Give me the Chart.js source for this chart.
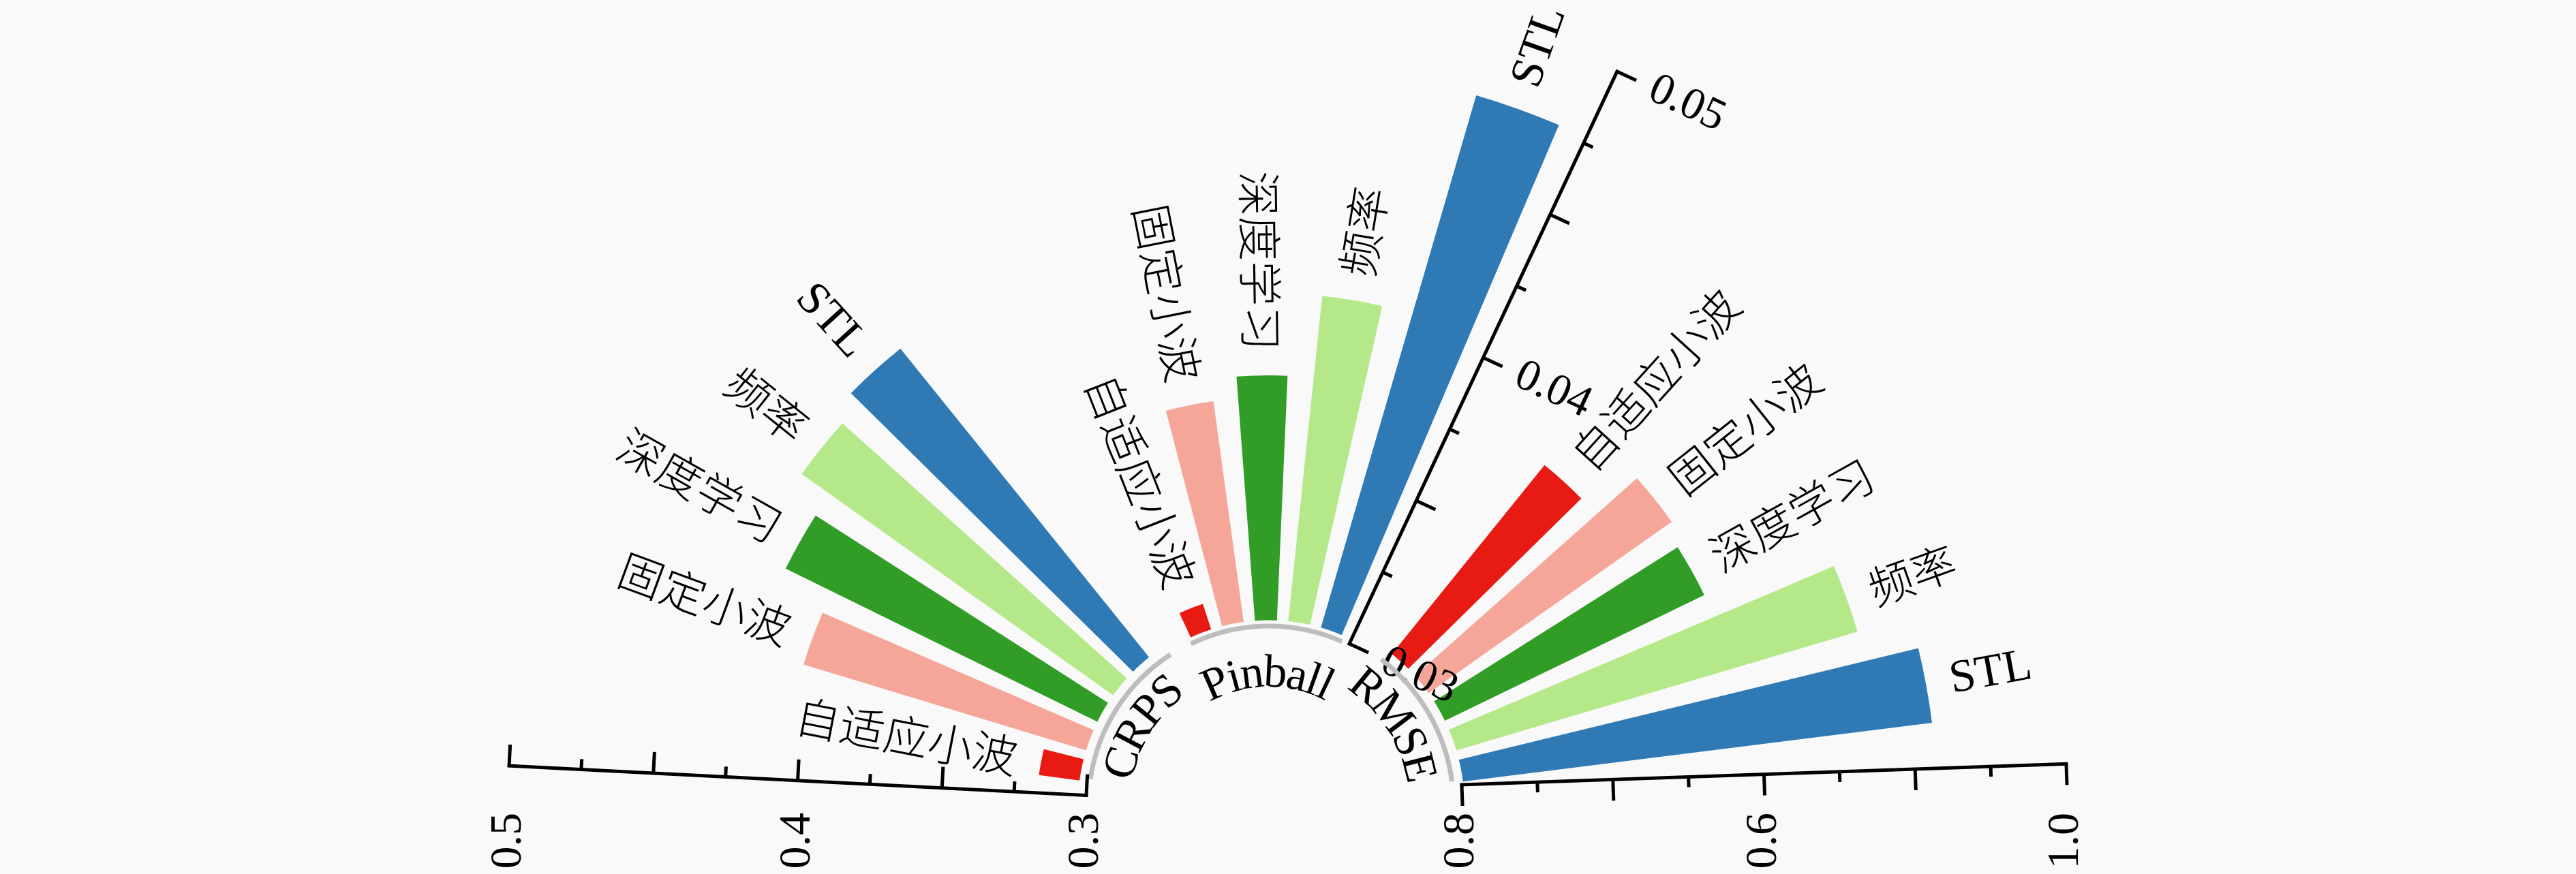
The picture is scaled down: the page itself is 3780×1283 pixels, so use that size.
<!DOCTYPE html>
<html>
<head>
<meta charset="utf-8">
<script src="https://cdn.jsdelivr.net/npm/chart.js@4.4.1/dist/chart.umd.min.js"></script>
<style>
  html, body { margin: 0; padding: 0; background: #f9f9f9; overflow: hidden; }
  #wrap { position: relative; width: 3780px; height: 1283px; }
</style>
</head>
<body>
<div id="wrap"><canvas id="chart"></canvas></div>
<script>
// ---------------- data ----------------
const groupNames = ['CRPS', 'Pinball', 'RMSE'];
const methodNames = ['自适应小波', '固定小波', '深度学习', '频率', 'STL'];
const crpsValues = [0.317, 0.405, 0.423, 0.435, 0.440];
const pinballValues = [0.0310, 0.0372, 0.0379, 0.0405, 0.0477];
const rmseValues = [0.881, 0.899, 0.896, 0.939, 0.957];
const crpsTicks = [0.3, 0.4, 0.5];
const crpsTickLabels = ['0.3', '0.4', '0.5'];
const pinballTicks = [0.03, 0.04, 0.05];
const pinballTickLabels = ['0.03', '0.04', '0.05'];
const rmseTicks = [0.8, 0.9, 1.0];
const rmseTickLabels = ['0.8', '0.6', '1.0'];
const crpsMinorStep = 0.025;
const pinballMinorStep = 0.0025;
const rmseMinorStep = 0.025;
const methodColors = ['#e81a14', '#f5a699', '#319d26', '#b4e888', '#2f79b5'];

// ---------------- layout / style ----------------
const D2R = Math.PI / 180;
const CENTER = { x: 1862, y: 1183 };
const LAYOUT = {
  CRPS:    { first: 169.1, step: -9.25, width: 6.5, rMin: 268.4, rMax: 1116.5, barGap: 12,
             axisAngle: 177.06, axisOffset: -1.7, tickLabelMode: 'below',
             arcFrom: 123, arcTo: 171.5, arcR: 265, nameAngle: 148.2, nameR: 222 },
  Pinball: { first: 111.5, step: -10.29, width: 6.8, rMin: 265.6, rMax: 1193, barGap: 7,
             axisAngle: 64.93, axisOffset: -6, tickLabelMode: 'side',
             arcFrom: 66, arcTo: 115.7, arcR: 264, nameAngle: 90.6, nameR: 193 },
  RMSE:    { first: 47.8, step: -9.35, width: 6.5, rMin: 283.9, rMax: 1171.4, barGap: 3,
             axisAngle: 1.98, axisOffset: 21.2, tickLabelMode: 'below',
             arcFrom: 7.6, arcTo: 52.5, arcR: 271, nameAngle: 32.7, nameR: 224 }
};
const VALUES = { CRPS: crpsValues, Pinball: pinballValues, RMSE: rmseValues };
const TICKS = {
  CRPS: { values: crpsTicks, labels: crpsTickLabels, minor: crpsMinorStep },
  Pinball: { values: pinballTicks, labels: pinballTickLabels, minor: pinballMinorStep },
  RMSE: { values: rmseTicks, labels: rmseTickLabels, minor: rmseMinorStep }
};
const LATIN = '"Liberation Serif", "Times New Roman", serif';
const CJK = '"Noto Sans CJK SC", sans-serif';
const TICK_FONT = '66px ' + LATIN;
const NAME_FONT = '68px ' + LATIN;
const MAJOR_LEN = 31, MINOR_LEN = 15, AXIS_W = 5;
const TICK_LABEL_DY = 10, SIDE_LABEL_PAD = 24, BAR_LABEL_PAD = 36;
const ARC_COLOR = '#bdbdbd', ARC_W = 7;

// ---------------- build chart config ----------------
function scaleFor(name) {
  const L = LAYOUT[name];
  const t = TICKS[name].values;
  const lo = t[0], hi = t[t.length - 1];
  const k = (L.rMax - L.rMin) / (hi - lo);
  return {
    type: 'radialLinear', axis: 'r', display: false, beginAtZero: false, bounds: 'data',
    min: lo - L.rMin / k, max: hi,
    startAngle: 90 - (L.first + L.width / 2),
    afterFit: (s) => { s.xCenter = CENTER.x; s.yCenter = CENTER.y; s.drawingArea = L.rMax; }
  };
}
function datasetFor(name) {
  const L = LAYOUT[name];
  const sc = scaleFor(name);
  const data = [], angles = [], colors = [];
  VALUES[name].forEach((v, i) => {
    if (i > 0) { data.push(sc.min); angles.push(Math.abs(L.step) - L.width); colors.push('rgba(0,0,0,0)'); }
    data.push(v); angles.push(L.width); colors.push(methodColors[i]);
  });
  return {
    label: name, rAxisID: name, data,
    angle: (ctx) => angles[ctx.dataIndex],
    backgroundColor: (ctx) => colors[ctx.dataIndex],
    borderWidth: 0
  };
}
const labels = [];
methodNames.forEach((m, i) => { if (i > 0) labels.push(''); labels.push(m); });

const scales = {};
groupNames.forEach(g => { scales[g] = scaleFor(g); });

// bars start just outside the inner circle
const holePlugin = {
  id: 'hole',
  afterDatasetsUpdate(chart) {
    chart.data.datasets.forEach((ds, di) => {
      const meta = chart.getDatasetMeta(di);
      const s = meta.rScale;
      const L = LAYOUT[ds.rAxisID];
      const r0 = s.getDistanceFromCenterForValue(TICKS[ds.rAxisID].values[0]) + L.barGap;
      meta.data.forEach((el, i) => { if (i % 2 === 0) el.innerRadius = r0; });
    });
  }
};

function isCJK(t) { return /[\u4e00-\u9fff]/.test(t); }

const decorPlugin = {
  id: 'decor',
  afterDraw(chart) {
    const ctx = chart.ctx;
    ctx.save();
    ctx.fillStyle = '#000';
    ctx.strokeStyle = '#000';
    groupNames.forEach((name, gi) => {
      const L = LAYOUT[name];
      const T = TICKS[name];
      const s = chart.scales[name];
      const cx = s.xCenter, cy = s.yCenter;

      // grey inner arc
      ctx.save();
      ctx.strokeStyle = ARC_COLOR; ctx.lineWidth = ARC_W;
      ctx.beginPath();
      ctx.arc(cx, cy, L.arcR, -L.arcTo * D2R, -L.arcFrom * D2R);
      ctx.stroke();
      ctx.restore();

      // curved group name
      ctx.save();
      ctx.font = NAME_FONT;
      const chars = [...name];
      const widths = chars.map(ch => ctx.measureText(ch).width);
      const total = widths.reduce((a, b) => a + b, 0);
      let th = L.nameAngle * D2R + (total / 2) / L.nameR;
      chars.forEach((ch, i) => {
        const tc = th - (widths[i] / 2) / L.nameR;
        ctx.save();
        ctx.translate(cx + L.nameR * Math.cos(tc), cy - L.nameR * Math.sin(tc));
        ctx.rotate(Math.PI / 2 - tc);
        ctx.textAlign = 'center'; ctx.textBaseline = 'middle';
        ctx.fillText(ch, 0, 0);
        ctx.restore();
        th -= widths[i] / L.nameR;
      });
      ctx.restore();

      // radial axis
      const a = L.axisAngle * D2R;
      const ux = Math.cos(a), uy = -Math.sin(a);
      const nx = -Math.sin(a), ny = -Math.cos(a);
      const tx = -nx, ty = -ny;
      const P = (v) => {
        const r = s.getDistanceFromCenterForValue(v);
        return { x: cx + r * ux + L.axisOffset * nx, y: cy + r * uy + L.axisOffset * ny };
      };
      const lo = T.values[0], hi = T.values[T.values.length - 1];
      ctx.save();
      ctx.lineWidth = AXIS_W; ctx.lineCap = 'square';
      const p0 = P(lo), p1 = P(hi);
      ctx.beginPath(); ctx.moveTo(p0.x, p0.y); ctx.lineTo(p1.x, p1.y); ctx.stroke();
      ctx.lineCap = 'butt';
      const n = Math.round((hi - lo) / T.minor);
      for (let k = 0; k <= n; k++) {
        const v = lo + k * T.minor;
        const p = P(v);
        const len = (k % 2 === 0) ? MAJOR_LEN : MINOR_LEN;
        ctx.beginPath(); ctx.moveTo(p.x, p.y); ctx.lineTo(p.x + tx * len, p.y + ty * len); ctx.stroke();
      }
      ctx.restore();

      // tick labels
      ctx.save();
      ctx.font = TICK_FONT;
      T.values.forEach((v, i) => {
        const p = P(v);
        ctx.save();
        if (L.tickLabelMode === 'below') {
          ctx.translate(p.x, cy + TICK_LABEL_DY);
          ctx.rotate(-Math.PI / 2);
          ctx.textAlign = 'right'; ctx.textBaseline = 'middle';
        } else {
          const d = MAJOR_LEN + SIDE_LABEL_PAD;
          ctx.translate(p.x + tx * d, p.y + ty * d);
          ctx.rotate(Math.atan2(ty, tx));
          ctx.textAlign = 'left'; ctx.textBaseline = 'middle';
        }
        ctx.fillText(T.labels[i], 0, 0);
        ctx.restore();
      });
      ctx.restore();

      // bar labels
      const meta = chart.getDatasetMeta(gi);
      meta.data.forEach((el, i) => {
        if (i % 2 !== 0) return;
        const text = methodNames[i / 2];
        const mid = (el.startAngle + el.endAngle) / 2;      // canvas angle
        let deg = (-mid / D2R) % 360; if (deg < 0) deg += 360; // math angle
        const r = el.outerRadius + BAR_LABEL_PAD;
        const x = el.x + r * Math.cos(mid), y = el.y + r * Math.sin(mid);
        ctx.save();
        ctx.font = isCJK(text) ? ('300 66px ' + CJK) : ('68px ' + LATIN);
        ctx.translate(x, y);
        ctx.textBaseline = 'middle';
        if (deg > 90) { ctx.rotate(-(deg - 180) * D2R); ctx.textAlign = 'right'; }
        else { ctx.rotate(-deg * D2R); ctx.textAlign = 'left'; }
        ctx.fillText(text, 0, 0);
        ctx.restore();
      });
    });
    ctx.restore();
  }
};

new Chart(document.getElementById('chart'), {
  type: 'polarArea',
  data: { labels, datasets: groupNames.map(datasetFor) },
  options: {
    responsive: true, maintainAspectRatio: false, animation: false, events: [],
    layout: { padding: 0 },
    plugins: { legend: { display: false }, tooltip: { enabled: false } },
    scales
  },
  plugins: [holePlugin, decorPlugin]
});
</script>
</body>
</html>
